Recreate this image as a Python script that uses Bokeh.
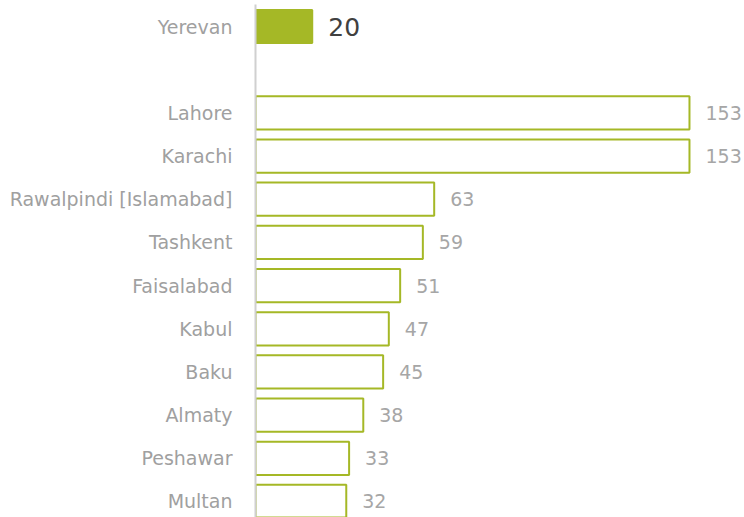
from bokeh.plotting import figure
from bokeh.models import ColumnDataSource, Range1d, FixedTicker
from bokeh.core.properties import value
from bokeh.embed import file_html
from bokeh.resources import INLINE

# Data
cities = ["Yerevan", "Lahore", "Karachi", "Rawalpindi [Islamabad]", "Tashkent",
          "Faisalabad", "Kabul", "Baku", "Almaty", "Peshawar", "Multan"]
values = [20, 153, 153, 63, 59, 51, 47, 45, 38, 33, 32]
rows = [0, 2, 3, 4, 5, 6, 7, 8, 9, 10, 11]  # row 1 is an empty gap

GREEN = "#a5b826"
FONT = "DejaVu Sans"

fill = [GREEN] + ["white"] * (len(values) - 1)
src = ColumnDataSource(dict(y=rows, v=values, fill=fill))

p = figure(width=744, height=517, output_backend="svg", toolbar_location=None,
           x_range=Range1d(0, 172.4), y_range=Range1d(11.371, -0.5095),
           min_border_left=255, min_border_right=0, min_border_top=4,
           min_border_bottom=0)
p.outline_line_color = None
p.xgrid.visible = False
p.ygrid.visible = False
p.xaxis.visible = False

p.hbar(y="y", right="v", left=0, height=0.77, source=src,
       fill_color="fill", line_color=GREEN, line_width=2)

src_first = ColumnDataSource(dict(y=rows[:1], v=values[:1],
                                  lbl=[str(values[0])]))
src_rest = ColumnDataSource(dict(y=rows[1:], v=values[1:],
                                 lbl=[str(v) for v in values[1:]]))
p.text(x="v", y="y", text="lbl", source=src_first, x_offset=16,
       text_baseline="middle", text_font=value(FONT),
       text_font_size="25px", text_color="#404040")
p.text(x="v", y="y", text="lbl", source=src_rest, x_offset=16,
       text_baseline="middle", text_font=value(FONT),
       text_font_size="19px", text_color="#a6a6a6")

ya = p.yaxis[0]
ya.ticker = FixedTicker(ticks=rows)
ya.major_label_overrides = {r: c for r, c in zip(rows, cities)}
ya.major_tick_line_color = None
ya.minor_tick_line_color = None
ya.axis_line_color = "#d0d0d0"
ya.axis_line_width = 2
ya.major_label_standoff = 17
ya.major_label_text_font = FONT
ya.major_label_text_font_size = "19px"
ya.major_label_text_color = "#a0a0a0"

open("out.html", "w").write(file_html(p, INLINE))
